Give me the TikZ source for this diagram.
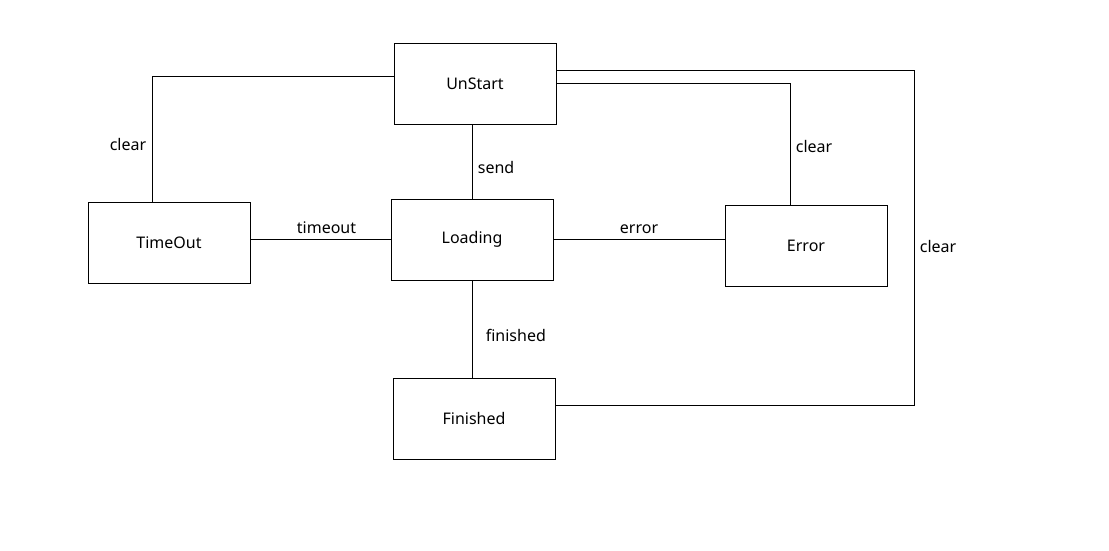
\documentclass[tikz,border=0pt]{standalone}
\usepackage{fontspec}
\setmainfont{Noto Sans}
\usetikzlibrary{positioning}

\tikzset{
  state/.style={draw, line width=0.75pt, minimum width=121.5pt, minimum height=60.75pt,
    font=\fontsize{12}{14}\selectfont},
  edge/.style={line width=0.75pt},
  lbl/.style={font=\fontsize{12}{14}\selectfont, inner sep=4pt}
}

\begin{document}
\begin{tikzpicture}[x=0.75pt,y=-0.75pt]
  \useasboundingbox (0,0) rectangle (1109,550);

  % States
  \node[state] (unstart)  at (475,83.5)  {UnStart};
  \node[state] (loading)  at (472,239.5) {Loading};
  \node[state] (timeout)  at (169,242.5) {TimeOut};
  \node[state] (error)    at (806,245.5) {Error};
  \node[state] (finished) at (474,418.5) {Finished};

  % Helper points for the clear lines
  \coordinate (right) at (914,0);
  \coordinate (to-top) at ([xshift=-12.75pt]timeout.north);
  \coordinate (err-top) at ([xshift=-12pt]error.north);
  \coordinate (fin-in) at ([yshift=10pt]finished.east);

  % Transitions
  \draw[edge] (unstart.south -| loading.north) -- node[lbl,right,pos=0.58] {send} (loading.north);
  \draw[edge] (timeout.east |- loading.west) -- node[lbl,above,xshift=4.5pt] {timeout} (loading.west);
  \draw[edge] (loading.east) -- node[lbl,above] {error} (loading.east -| error.west);
  \draw[edge] (loading.south) -- node[lbl,right,pos=0.57,xshift=6pt] {finished} (loading.south |- finished.north);

  % Back to UnStart
  \draw[edge] ([yshift=5.25pt]unstart.west) -| node[lbl,left,pos=0.77] {clear} (to-top);
  \draw[edge] (unstart.east) -| node[lbl,right,pos=0.76] {clear} (err-top);
  \draw[edge] ([yshift=10pt]unstart.east) -| node[lbl,right,pos=0.763] {clear} (fin-in -| right) -- (fin-in);
\end{tikzpicture}
\end{document}
